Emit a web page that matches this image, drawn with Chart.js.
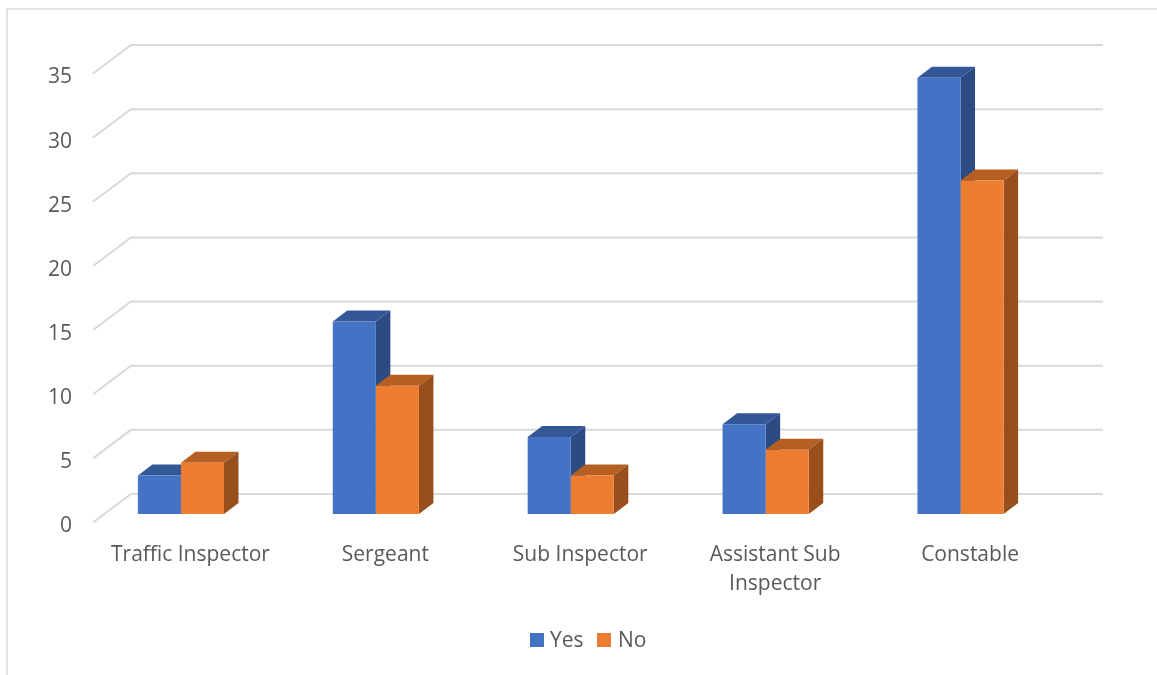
<!DOCTYPE html>
<html>
<head>
<meta charset="utf-8">
<title>Responses by rank</title>
<style>
  html, body { margin: 0; padding: 0; background: #fff; }
  canvas { display: block; }
</style>
<script src="https://cdn.jsdelivr.net/npm/chart.js@4/dist/chart.umd.min.js"></script>
</head>
<body>
<canvas id="chart" width="1157" height="675"></canvas>
<script>
const categories = ['Traffic Inspector', 'Sergeant', 'Sub Inspector', ['Assistant Sub', 'Inspector'], 'Constable'];
const yesValues = [3, 15, 6, 7, 34];
const noValues = [4, 10, 3, 5, 26];
const seriesNames = ['Yes', 'No'];
const frontColors = ['#4472C4', '#ED7D31'];
const topColors = ['#345897', '#B55F22'];
const sideColors = ['#2C4B83', '#984F1C'];

const TEXT = '#595959';
const GRID = '#D9D9D9';
const FONT = '"Open Sans", sans-serif';

// Oblique projection used for the column extrusion and the floor and wall lines.
const depth = { dx: 14.5, dy: 11 };
const wall = { frontX: 93, backX: 131, rightX: 1103, frontDy: 8.5, backDy: -20 };

function poly(ctx, color, pts) {
  ctx.fillStyle = color;
  ctx.beginPath();
  pts.forEach((p, i) => i ? ctx.lineTo(p[0], p[1]) : ctx.moveTo(p[0], p[1]));
  ctx.closePath();
  ctx.fill();
}

const columns3d = {
  id: 'columns3d',
  beforeDraw(chart) {
    const ctx = chart.ctx;
    ctx.save();
    ctx.fillStyle = '#fff';
    ctx.fillRect(0, 0, chart.width, chart.height);
    // Outer frame: only the top and left edges are visible.
    ctx.strokeStyle = GRID;
    ctx.lineWidth = 1.5;
    ctx.beginPath();
    ctx.moveTo(7, chart.height);
    ctx.lineTo(7, 9);
    ctx.lineTo(chart.width, 9);
    ctx.stroke();
    ctx.restore();
  },
  beforeDatasetsDraw(chart) {
    const ctx = chart.ctx;
    const yScale = chart.scales.y;
    ctx.save();
    // Floor edge and back wall line for each tick.
    ctx.strokeStyle = GRID;
    ctx.lineWidth = 2;
    yScale.ticks.forEach(t => {
      const py = yScale.getPixelForValue(t.value);
      ctx.beginPath();
      ctx.moveTo(wall.frontX, py + wall.frontDy);
      ctx.lineTo(wall.backX, py + wall.backDy);
      ctx.lineTo(wall.rightX, py + wall.backDy);
      ctx.stroke();
    });
    // Top and side faces; the library paints the front faces over them.
    const { dx, dy } = depth;
    categories.forEach((_, c) => {
      chart.data.datasets.forEach((_, d) => {
        const bar = chart.getDatasetMeta(d).data[c];
        const l = bar.x - bar.width / 2;
        const r = bar.x + bar.width / 2;
        poly(ctx, topColors[d], [[l, bar.y], [l + dx, bar.y - dy], [r + dx, bar.y - dy], [r, bar.y]]);
        poly(ctx, sideColors[d], [[r, bar.y], [r + dx, bar.y - dy], [r + dx, bar.base - dy], [r, bar.base]]);
      });
    });
    ctx.restore();
  },
  afterDraw(chart) {
    // Legend row centred under the plot.
    const ctx = chart.ctx;
    const y = 640;
    const box = 14;
    const starts = [530, 597];
    const textStarts = [550, 618];
    ctx.save();
    ctx.font = '21px ' + FONT;
    ctx.textBaseline = 'middle';
    ctx.textAlign = 'left';
    chart.data.datasets.forEach((ds, i) => {
      ctx.fillStyle = ds.backgroundColor;
      ctx.fillRect(starts[i], y - box / 2, box, box);
      ctx.fillStyle = TEXT;
      ctx.fillText(ds.label, textStarts[i], y + 1);
    });
    ctx.restore();
  }
};

new Chart(document.getElementById('chart'), {
  type: 'bar',
  data: {
    labels: categories,
    datasets: [
      { label: seriesNames[0], data: yesValues, backgroundColor: frontColors[0] },
      { label: seriesNames[1], data: noValues, backgroundColor: frontColors[1] }
    ]
  },
  options: {
    responsive: false,
    animation: false,
    devicePixelRatio: 1,
    layout: { padding: { top: 65, right: 99, left: 0, bottom: 0 } },
    categoryPercentage: 0.442,
    barPercentage: 1,
    plugins: { legend: { display: false }, tooltip: { enabled: false } },
    scales: {
      x: {
        grid: { display: false },
        border: { display: false },
        afterFit(s) { s.height = 161; },
        ticks: {
          color: TEXT,
          font: { family: FONT, size: 21, lineHeight: 1.38 },
          padding: 19,
          labelOffset: 9.5,
          maxRotation: 0,
          autoSkip: false
        }
      },
      y: {
        min: 0,
        max: 35,
        grid: { display: false },
        border: { display: false },
        afterFit(s) { s.width = 83.5; },
        ticks: {
          stepSize: 5,
          color: TEXT,
          font: { family: FONT, size: 21 },
          padding: 3.5,
          labelOffset: 12.5
        }
      }
    }
  },
  plugins: [columns3d]
});
</script>
</body>
</html>
